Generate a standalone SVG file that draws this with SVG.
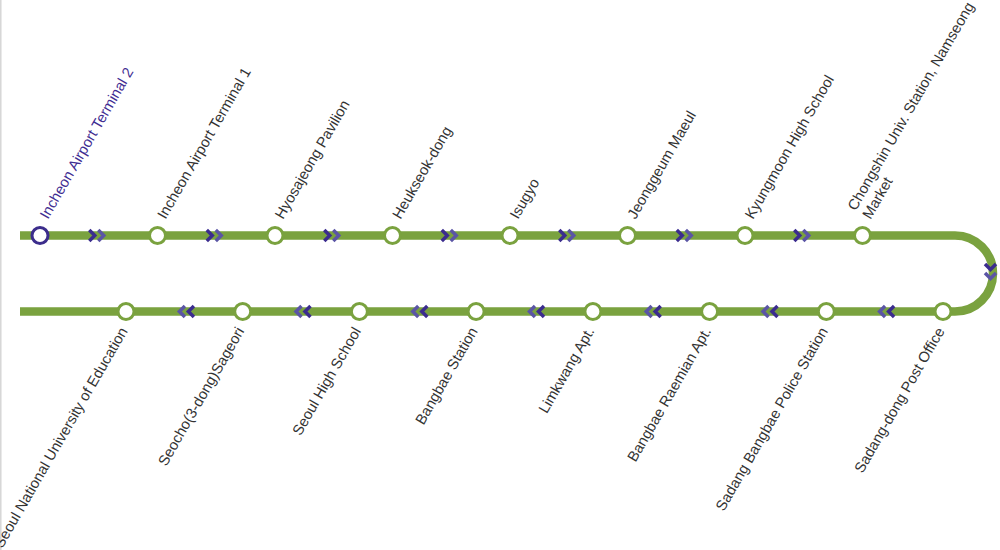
<svg xmlns="http://www.w3.org/2000/svg" width="1000" height="550" viewBox="0 0 1000 550">
<style>
.lbl{font-family:"Liberation Sans",Arial,Helvetica,sans-serif;font-size:14.8px;fill:#333}
.first{fill:#3f2d92}
.st{fill:#fff;stroke:#7aa23f;stroke-width:3}
.st0{fill:#fff;stroke:#3c2d8c;stroke-width:3}
.chd{fill:none;stroke:#3b2c8e;stroke-width:3.5}
.chl{fill:none;stroke:#5b55a5;stroke-width:3.5}
</style>
<defs>
<g id="chev">
<polyline class="chd" points="-9.5,-5.5 -4,0 -9.5,5.5"/>
<polyline class="chl" points="-0.5,-5.5 5,0 -0.5,5.5"/>
</g>
</defs>
<rect width="1000" height="550" fill="#fff"/>
<line x1="0.8" y1="0" x2="0.8" y2="550" stroke="#d6d6d6" stroke-width="1.5"/>
<g id="connectors">
<path d="M20,235.5 H955 A38,38 0 0 1 955,311.5 H20" fill="none" stroke="#7aa23f" stroke-width="8.5"/>
<use href="#chev" x="98.75" y="235.5"/>
<use href="#chev" x="216.25" y="235.5"/>
<use href="#chev" x="333.75" y="235.5"/>
<use href="#chev" x="451.25" y="235.5"/>
<use href="#chev" x="568.75" y="235.5"/>
<use href="#chev" x="686.25" y="235.5"/>
<use href="#chev" x="803.75" y="235.5"/>
<use href="#chev" transform="translate(990.5,273.5) rotate(90)"/>
<use href="#chev" transform="translate(884.6,311.5) rotate(180)"/>
<use href="#chev" transform="translate(768,311.5) rotate(180)"/>
<use href="#chev" transform="translate(651.2,311.5) rotate(180)"/>
<use href="#chev" transform="translate(534.5,311.5) rotate(180)"/>
<use href="#chev" transform="translate(417.8,311.5) rotate(180)"/>
<use href="#chev" transform="translate(301,311.5) rotate(180)"/>
<use href="#chev" transform="translate(184.4,311.5) rotate(180)"/>
</g>
<g id="s1"><circle class="st0" cx="40" cy="235.5" r="8"/><text class="lbl first" transform="translate(48,220) rotate(-60)">Incheon Airport Terminal 2</text></g>
<g id="s2"><circle class="st" cx="157.5" cy="235.5" r="8"/><text class="lbl" transform="translate(165.5,220) rotate(-60)">Incheon Airport Terminal 1</text></g>
<g id="s3"><circle class="st" cx="275" cy="235.5" r="8"/><text class="lbl" transform="translate(283,220) rotate(-60)">Hyosajeong Pavilion</text></g>
<g id="s4"><circle class="st" cx="392.5" cy="235.5" r="8"/><text class="lbl" transform="translate(400.5,220) rotate(-60)">Heukseok-dong</text></g>
<g id="s5"><circle class="st" cx="510" cy="235.5" r="8"/><text class="lbl" transform="translate(518,220) rotate(-60)">Isugyo</text></g>
<g id="s6"><circle class="st" cx="627.5" cy="235.5" r="8"/><text class="lbl" transform="translate(635.5,220) rotate(-60)">Jeonggeum Maeul</text></g>
<g id="s7"><circle class="st" cx="745" cy="235.5" r="8"/><text class="lbl" transform="translate(753,220) rotate(-60)">Kyungmoon High School</text></g>
<g id="s8"><circle class="st" cx="862.5" cy="235.5" r="8"/><text class="lbl" transform="translate(870.5,220) rotate(-60)"><tspan x="0" y="-17">Chongshin Univ. Station, Namseong</tspan><tspan x="0" y="0">Market</tspan></text></g>
<g id="s9"><circle class="st" cx="943" cy="311.5" r="8"/><text class="lbl" text-anchor="end" transform="translate(945,331) rotate(-60)">Sadang-dong Post Office</text></g>
<g id="s10"><circle class="st" cx="826.3" cy="311.5" r="8"/><text class="lbl" text-anchor="end" transform="translate(828.3,331) rotate(-60)">Sadang Bangbae Police Station</text></g>
<g id="s11"><circle class="st" cx="709.6" cy="311.5" r="8"/><text class="lbl" text-anchor="end" transform="translate(711.6,331) rotate(-60)">Bangbae Raemian Apt.</text></g>
<g id="s12"><circle class="st" cx="592.9" cy="311.5" r="8"/><text class="lbl" text-anchor="end" transform="translate(594.9,331) rotate(-60)">Limkwang Apt.</text></g>
<g id="s13"><circle class="st" cx="476.1" cy="311.5" r="8"/><text class="lbl" text-anchor="end" transform="translate(478.1,331) rotate(-60)">Bangbae Station</text></g>
<g id="s14"><circle class="st" cx="359.4" cy="311.5" r="8"/><text class="lbl" text-anchor="end" transform="translate(361.4,331) rotate(-60)">Seoul High School</text></g>
<g id="s15"><circle class="st" cx="242.7" cy="311.5" r="8"/><text class="lbl" text-anchor="end" transform="translate(244.7,331) rotate(-60)">Seocho(3-dong)Sageori</text></g>
<g id="s16"><circle class="st" cx="126" cy="311.5" r="8"/><text class="lbl" text-anchor="end" transform="translate(128,331) rotate(-60)">Seoul National University of Education</text></g>
</svg>
